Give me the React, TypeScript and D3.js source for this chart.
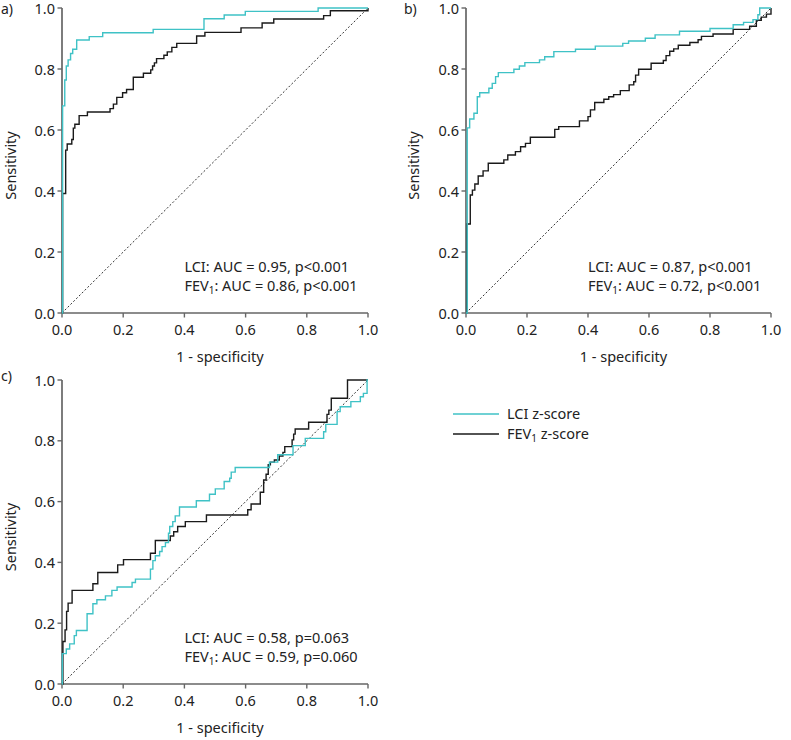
import React from "react";
import * as d3 from "d3";

type Pt = [number, number];

const TICK_VALUES = [0, 0.2, 0.4, 0.6, 0.8, 1.0];
const TICK_LABELS = ["0.0", "0.2", "0.4", "0.6", "0.8", "1.0"];
const PANEL_LABELS = ["a)", "b)", "c)"];
const X_TITLE = "1 - specificity";
const Y_TITLE = "Sensitivity";
const LEGEND_NAMES = ["LCI", "FEV"];

// Panel a
const aLCI: Pt[] = [[0, 0], [0.002, 0.679], [0.009, 0.764], [0.014, 0.81], [0.02, 0.83], [0.028, 0.851], [0.035, 0.865], [0.048, 0.895], [0.089, 0.906], [0.133, 0.919], [0.298, 0.93], [0.464, 0.965], [0.53, 0.977], [0.599, 0.989], [0.837, 1.0], [1, 1]];
const aFEV: Pt[] = [[0, 0], [0.002, 0.392], [0.012, 0.534], [0.017, 0.554], [0.032, 0.569], [0.037, 0.606], [0.042, 0.619], [0.056, 0.647], [0.083, 0.659], [0.157, 0.67], [0.168, 0.685], [0.179, 0.707], [0.198, 0.722], [0.211, 0.733], [0.233, 0.773], [0.266, 0.786], [0.29, 0.797], [0.296, 0.81], [0.302, 0.82], [0.309, 0.834], [0.333, 0.845], [0.344, 0.856], [0.359, 0.871], [0.375, 0.884], [0.44, 0.908], [0.467, 0.92], [0.585, 0.935], [0.654, 0.951], [0.692, 0.964], [0.855, 0.975], [0.877, 0.991], [1, 1]];

// Panel b
const bLCI: Pt[] = [[0, 0], [0.004, 0.607], [0.012, 0.636], [0.026, 0.655], [0.037, 0.709], [0.045, 0.722], [0.075, 0.737], [0.086, 0.753], [0.097, 0.775], [0.106, 0.788], [0.157, 0.799], [0.175, 0.81], [0.193, 0.821], [0.241, 0.83], [0.258, 0.84], [0.288, 0.857], [0.359, 0.865], [0.424, 0.875], [0.514, 0.884], [0.533, 0.892], [0.588, 0.901], [0.62, 0.912], [0.7, 0.924], [0.8, 0.933], [0.876, 0.945], [0.91, 0.953], [0.941, 0.962], [0.957, 0.978], [0.963, 1.0], [1, 1]];
const bFEV: Pt[] = [[0, 0], [0.003, 0.292], [0.014, 0.387], [0.021, 0.403], [0.029, 0.423], [0.04, 0.449], [0.056, 0.466], [0.073, 0.491], [0.124, 0.502], [0.137, 0.518], [0.162, 0.529], [0.179, 0.545], [0.195, 0.556], [0.211, 0.576], [0.291, 0.602], [0.304, 0.611], [0.372, 0.63], [0.4, 0.644], [0.408, 0.666], [0.422, 0.69], [0.452, 0.701], [0.468, 0.709], [0.484, 0.716], [0.506, 0.729], [0.535, 0.748], [0.55, 0.758], [0.556, 0.78], [0.566, 0.799], [0.607, 0.819], [0.647, 0.828], [0.656, 0.844], [0.668, 0.858], [0.681, 0.866], [0.696, 0.878], [0.734, 0.887], [0.761, 0.896], [0.772, 0.907], [0.81, 0.915], [0.876, 0.93], [0.93, 0.94], [0.952, 0.96], [0.968, 0.97], [0.985, 0.98], [1, 1]];

// Panel c
const cLCI: Pt[] = [[0, 0], [0.001, 0.1], [0.014, 0.115], [0.025, 0.132], [0.04, 0.159], [0.047, 0.176], [0.082, 0.231], [0.101, 0.264], [0.114, 0.277], [0.142, 0.29], [0.163, 0.308], [0.18, 0.319], [0.229, 0.334], [0.24, 0.345], [0.289, 0.378], [0.297, 0.406], [0.305, 0.422], [0.319, 0.436], [0.327, 0.452], [0.338, 0.465], [0.348, 0.496], [0.352, 0.518], [0.362, 0.534], [0.37, 0.553], [0.384, 0.582], [0.439, 0.603], [0.482, 0.624], [0.501, 0.642], [0.53, 0.666], [0.548, 0.677], [0.553, 0.697], [0.566, 0.712], [0.678, 0.73], [0.705, 0.754], [0.755, 0.784], [0.795, 0.808], [0.855, 0.83], [0.862, 0.854], [0.899, 0.896], [0.909, 0.912], [0.944, 0.929], [0.975, 0.945], [0.985, 0.956], [0.997, 1.0], [1, 1]];
const cFEV: Pt[] = [[0, 0], [0.003, 0.14], [0.01, 0.178], [0.015, 0.239], [0.02, 0.266], [0.033, 0.308], [0.101, 0.33], [0.117, 0.367], [0.182, 0.392], [0.201, 0.409], [0.289, 0.43], [0.305, 0.472], [0.354, 0.487], [0.365, 0.501], [0.378, 0.518], [0.403, 0.534], [0.472, 0.556], [0.607, 0.573], [0.618, 0.592], [0.648, 0.631], [0.659, 0.671], [0.667, 0.69], [0.674, 0.721], [0.681, 0.73], [0.694, 0.737], [0.71, 0.75], [0.722, 0.762], [0.728, 0.781], [0.752, 0.803], [0.757, 0.822], [0.762, 0.839], [0.806, 0.861], [0.866, 0.887], [0.872, 0.901], [0.88, 0.94], [0.933, 1.0], [1, 1]];

const LCI_STATS = ["AUC = 0.95, p<0.001", "AUC = 0.87, p<0.001", "AUC = 0.58, p=0.063"];
const FEV_STATS = ["AUC = 0.86, p<0.001", "AUC = 0.72, p<0.001", "AUC = 0.59, p=0.060"];

const CYAN = "#3fc2c6";
const BLACK = "#1a1a1a";
const AXIS = "#666666";
const TEXT = "#222222";
const FONT = "'Noto Sans', sans-serif";
const FS = 14.5;

interface PanelProps {
  x0: number; x1: number; yb: number; yt: number;
  label: string; labelX: number; labelY: number; ytitleX: number;
  lci: Pt[]; fev: Pt[]; lciStat: string; fevStat: string;
}

function Panel(p: PanelProps) {
  const x = d3.scaleLinear().domain([0, 1]).range([p.x0, p.x1]);
  const y = d3.scaleLinear().domain([0, 1]).range([p.yb, p.yt]);
  const line = d3.line<Pt>().x(d => x(d[0])).y(d => y(d[1])).curve(d3.curveStepAfter);
  const diag = d3.line<Pt>().x(d => x(d[0])).y(d => y(d[1]));
  const tickLen = 4.5;
  return (
    <g>
      <text x={p.labelX} y={p.labelY} fontSize={14} fill={TEXT}>{p.label}</text>
      <line x1={x(0)} x2={x(0)} y1={y(0)} y2={y(1)} stroke={AXIS} strokeWidth={1.7} />
      <line x1={x(0)} x2={x(1)} y1={y(0)} y2={y(0)} stroke={AXIS} strokeWidth={1.7} />
      {TICK_VALUES.map((t, i) => (
        <g key={"y" + i}>
          <line x1={x(0) - tickLen} x2={x(0)} y1={y(t)} y2={y(t)} stroke={AXIS} strokeWidth={1.4} />
          <text x={x(0) - 7} y={y(t) + 5.5} textAnchor="end" fontSize={FS} fill={TEXT}>{TICK_LABELS[i]}</text>
        </g>
      ))}
      {TICK_VALUES.map((t, i) => (
        <g key={"x" + i}>
          <line x1={x(t)} x2={x(t)} y1={y(0)} y2={y(0) + tickLen} stroke={AXIS} strokeWidth={1.4} />
          <text x={x(t)} y={y(0) + 22} textAnchor="middle" fontSize={FS} fill={TEXT}>{TICK_LABELS[i]}</text>
        </g>
      ))}
      <text x={x(0.516)} y={y(0) + 49} textAnchor="middle" fontSize={FS} fill={TEXT}>{X_TITLE}</text>
      <text transform={`translate(${p.ytitleX},${(y(0) + y(1)) / 2 + 5}) rotate(-90)`} textAnchor="middle" fontSize={FS} fill={TEXT}>{Y_TITLE}</text>
      <path d={diag([[0, 0], [1, 1]]) || ""} fill="none" stroke="#333" strokeWidth={1} strokeDasharray="2,2" />
      <path d={line(p.fev) || ""} fill="none" stroke={BLACK} strokeWidth={1.4} />
      <path d={line(p.lci) || ""} fill="none" stroke={CYAN} strokeWidth={1.4} />
      <text x={x(0.4)} y={y(0) - 41} fontSize={FS} fill={TEXT}>{`${LEGEND_NAMES[0]}: ${p.lciStat}`}</text>
      <text x={x(0.4)} y={y(0) - 22} fontSize={FS} fill={TEXT}>
        {LEGEND_NAMES[1]}<tspan fontSize={10} dy={3}>1</tspan><tspan dy={-3}>{`: ${p.fevStat}`}</tspan>
      </text>
    </g>
  );
}

export default function App() {
  return (
    <svg width={791} height={740} style={{ position: "absolute", left: 0, top: 0, background: "#fff" }}
      fontFamily={FONT}>
      <rect width={791} height={740} fill="#fff" />
      <Panel x0={62} x1={368} yb={313} yt={8} label={PANEL_LABELS[0]} labelX={1} labelY={14} ytitleX={16}
        lci={aLCI} fev={aFEV} lciStat={LCI_STATS[0]} fevStat={FEV_STATS[0]} />
      <Panel x0={466} x1={771} yb={313} yt={8} label={PANEL_LABELS[1]} labelX={404} labelY={14} ytitleX={419}
        lci={bLCI} fev={bFEV} lciStat={LCI_STATS[1]} fevStat={FEV_STATS[1]} />
      <Panel x0={62} x1={368} yb={684} yt={380} label={PANEL_LABELS[2]} labelX={1} labelY={381} ytitleX={16}
        lci={cLCI} fev={cFEV} lciStat={LCI_STATS[2]} fevStat={FEV_STATS[2]} />
      <line x1={453} x2={499} y1={414} y2={414} stroke={CYAN} strokeWidth={1.3} />
      <line x1={453} x2={499} y1={434} y2={434} stroke={BLACK} strokeWidth={1.3} />
      <text x={507} y={419} fontSize={FS} fill={TEXT}>{LEGEND_NAMES[0]} z-score</text>
      <text x={507} y={439} fontSize={FS} fill={TEXT}>
        {LEGEND_NAMES[1]}<tspan fontSize={10} dy={3}>1</tspan><tspan dy={-3}> z-score</tspan>
      </text>
    </svg>
  );
}
